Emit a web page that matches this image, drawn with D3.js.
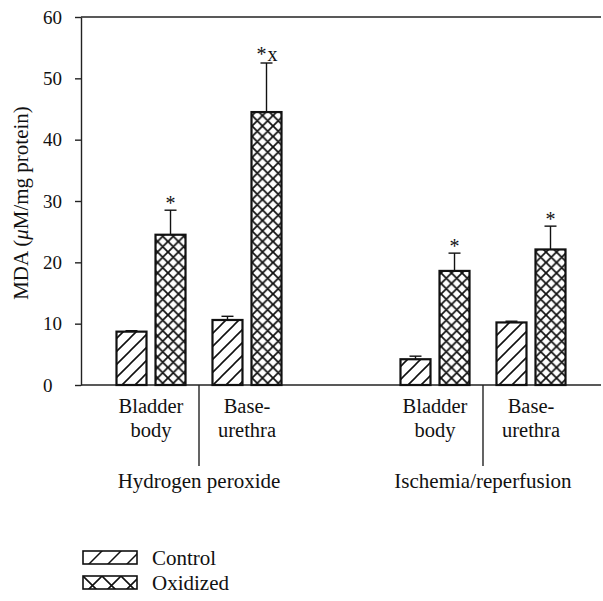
<!DOCTYPE html>
<html>
<head>
<meta charset="utf-8">
<script src="https://cdn.jsdelivr.net/npm/d3@7"></script>
<style>
  body { margin: 0; background: #fff; }
  text { font-family: "Liberation Serif", "Times New Roman", serif; fill: #111; }
</style>
</head>
<body>
<div id="chart"></div>
<script>
const groups = ["Hydrogen peroxide", "Ischemia/reperfusion"];
const tissues = ["Bladder body", "Base-urethra"];
const tissueLines = [["Bladder", "body"], ["Base-", "urethra"]];
const treatments = ["Control", "Oxidized"];

// mean values [group][tissue]
const controlMean = [[8.7, 10.6], [4.2, 10.2]];
const controlErr = [[0.15, 0.6], [0.5, 0.2]];
const oxidizedMean = [[24.5, 44.5], [18.6, 22.1]];
const oxidizedErr = [[4.0, 8.0], [2.9, 3.8]];
const marks = [["*", "*x"], ["*", "*"]];
const yTicks = [0, 10, 20, 30, 40, 50, 60];

const W = 603, H = 601;
const svg = d3.select("#chart").append("svg")
  .attr("width", W).attr("height", H)
  .attr("font-family", "Liberation Serif");

const defs = svg.append("defs");

// single hatch "/"
function hatch(id, s, sw) {
  defs.append("pattern").attr("id", id)
    .attr("patternUnits", "userSpaceOnUse")
    .attr("width", s).attr("height", s)
    .append("path")
    .attr("d", `M${-s / 2},${s / 2} L${s / 2},${-s / 2} M0,${s} L${s},0 M${s / 2},${s * 1.5} L${s * 1.5},${s / 2}`)
    .attr("stroke", "#111").attr("stroke-width", sw);
}
// cross hatch
function cross(id, s, sw) {
  const p = defs.append("pattern").attr("id", id)
    .attr("patternUnits", "userSpaceOnUse")
    .attr("width", s).attr("height", s);
  p.append("path")
    .attr("d", `M0,${s} L${s},0 M${-s / 2},${s / 2} L${s / 2},${-s / 2} M${s / 2},${s * 1.5} L${s * 1.5},${s / 2}` +
      ` M0,0 L${s},${s} M${-s / 2},${s / 2} L${s / 2},${s * 1.5} M${s / 2},${-s / 2} L${s * 1.5},${s / 2}`)
    .attr("stroke", "#111").attr("stroke-width", sw);
}
hatch("hatchC", 13, 1.6);
cross("hatchO", 10.5, 1.8);
hatch("hatchCL", 19, 1.5);
cross("hatchOL", 19, 1.6);

const x0 = d3.scaleBand().domain(groups).range([81, 601])
  .paddingInner(0.419).paddingOuter(0.125);
const x1 = d3.scaleBand().domain(tissues).range([0, x0.bandwidth()])
  .paddingInner(0.281);
const x2 = d3.scaleBand().domain(treatments).range([0, x1.bandwidth()])
  .paddingInner(0.231);
const y = d3.scaleLinear().domain([0, 60]).range([385, 17]);

// axes
const yAxis = svg.append("g")
  .attr("transform", "translate(81,0)")
  .call(d3.axisLeft(y).tickValues(yTicks).tickSize(6).tickSizeOuter(0));
yAxis.attr("font-family", "Liberation Serif");
yAxis.select(".domain").attr("stroke", "#222").attr("stroke-width", 1.4);
yAxis.selectAll(".tick line").attr("stroke", "#222").attr("stroke-width", 1.4);
yAxis.selectAll(".tick text")
  .attr("text-anchor", "start").attr("x", -38)
  .style("font-size", "19px");

svg.append("line")
  .attr("x1", 81).attr("x2", 601).attr("y1", y(0)).attr("y2", y(0))
  .attr("stroke", "#222").attr("stroke-width", 1.4);
svg.append("line")
  .attr("x1", 81).attr("x2", 601).attr("y1", y(60)).attr("y2", y(60))
  .attr("stroke", "#222").attr("stroke-width", 1.4);

svg.append("text")
  .attr("transform", `translate(23,${(y(0) + y(60)) / 2 + 2}) rotate(-90)`)
  .attr("text-anchor", "middle").attr("dominant-baseline", "middle")
  .style("font-size", "21px")
  .html('MDA (<tspan font-style="italic">μ</tspan>M/mg protein)');

// build bar rows
const rows = [];
groups.forEach((g, gi) => {
  tissues.forEach((t, ti) => {
    rows.push({ g, t, gi, ti, tr: "Control", v: controlMean[gi][ti], e: controlErr[gi][ti], m: "" });
    rows.push({ g, t, gi, ti, tr: "Oxidized", v: oxidizedMean[gi][ti], e: oxidizedErr[gi][ti], m: marks[gi][ti] });
  });
});
const bx = d => x0(d.g) + x1(d.t) + x2(d.tr);

// error bars
const eb = svg.append("g").selectAll("g").data(rows).enter().append("g");
eb.append("line")
  .attr("x1", d => bx(d) + x2.bandwidth() / 2).attr("x2", d => bx(d) + x2.bandwidth() / 2)
  .attr("y1", d => y(d.v)).attr("y2", d => y(d.v + d.e))
  .attr("stroke", "#111").attr("stroke-width", 1.4);
eb.append("line")
  .attr("x1", d => bx(d) + x2.bandwidth() / 2 - 6).attr("x2", d => bx(d) + x2.bandwidth() / 2 + 6)
  .attr("y1", d => y(d.v + d.e)).attr("y2", d => y(d.v + d.e))
  .attr("stroke", "#111").attr("stroke-width", 1.4);
eb.append("text")
  .attr("x", d => bx(d) + x2.bandwidth() / 2 + (d.m.length > 1 ? 1 : 0))
  .attr("y", d => y(d.v + d.e) - (d.m.length > 1 ? 2 : 0))
  .attr("text-anchor", "middle")
  .style("font-size", "20px")
  .style("letter-spacing", d => d.m.length > 1 ? "1px" : null)
  .text(d => d.m);

// bars
svg.append("g").selectAll("rect").data(rows).enter().append("rect")
  .attr("x", bx)
  .attr("y", d => y(d.v))
  .attr("width", x2.bandwidth())
  .attr("height", d => y(0) - y(d.v))
  .attr("fill", d => d.tr === "Control" ? "url(#hatchC)" : "url(#hatchO)")
  .attr("stroke", "#111").attr("stroke-width", 2.2);

// category labels
groups.forEach((g, gi) => {
  tissues.forEach((t, ti) => {
    const cx = x0(g) + x1(t) + x1.bandwidth() / 2;
    tissueLines[ti].forEach((s, li) => {
      svg.append("text").attr("x", cx).attr("y", 413 + li * 24)
        .attr("text-anchor", "middle").style("font-size", "20.5px").text(s);
    });
  });
  // divider
  const dx = x0(g) + x1.bandwidth() + x1.step() * x1.paddingInner() / 2;
  svg.append("line").attr("x1", dx).attr("x2", dx).attr("y1", y(0)).attr("y2", 466)
    .attr("stroke", "#222").attr("stroke-width", 1.4);
  svg.append("text").attr("x", x0(g) + x0.bandwidth() / 2).attr("y", 488)
    .attr("text-anchor", "middle").style("font-size", "21px").text(g);
});

// legend
const leg = svg.append("g").selectAll("g").data(treatments).enter().append("g")
  .attr("transform", (d, i) => `translate(83,${551 + i * 25})`);
leg.append("rect").attr("width", 54).attr("height", 13)
  .attr("fill", d => d === "Control" ? "url(#hatchCL)" : "url(#hatchOL)")
  .attr("stroke", "#111").attr("stroke-width", 1.6);
leg.append("text").attr("x", 69).attr("y", 14)
  .style("font-size", "21px").text(d => d);
</script>
</body>
</html>
